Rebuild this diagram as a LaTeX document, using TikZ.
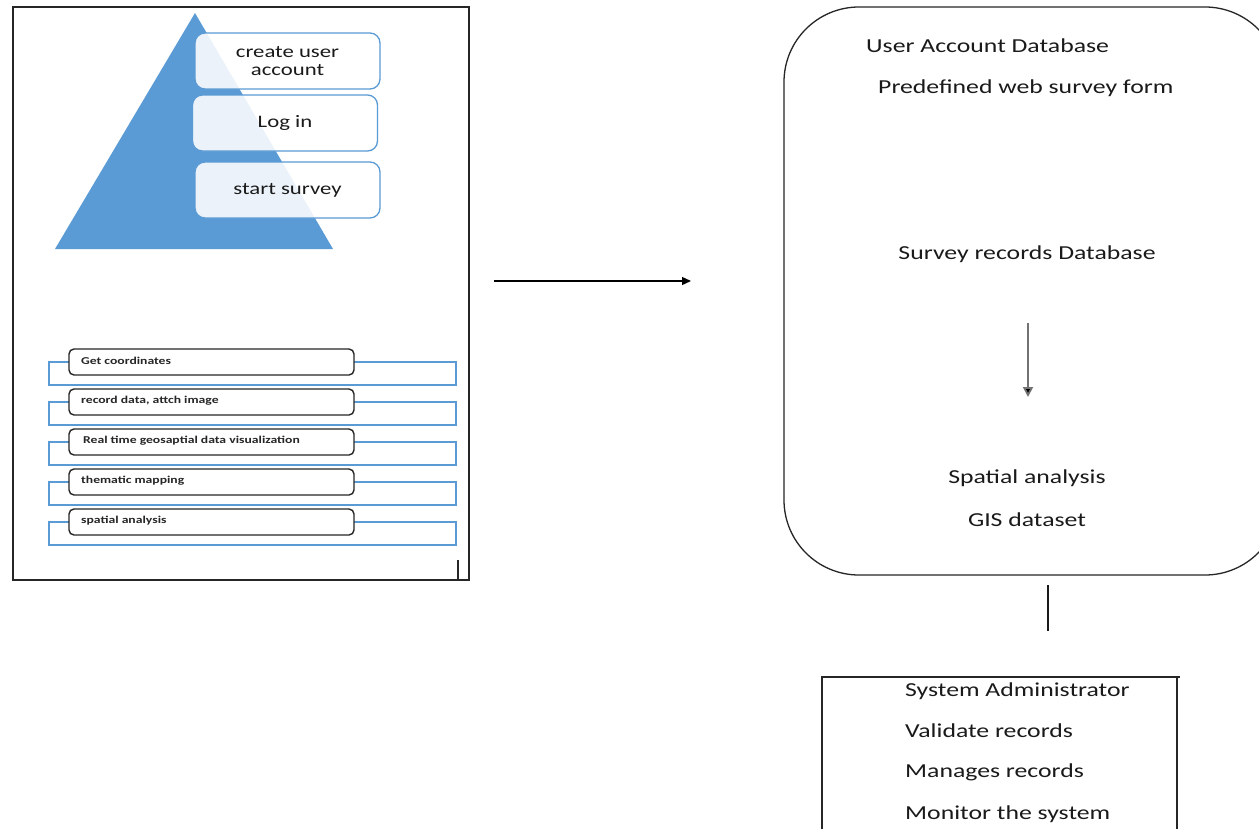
\documentclass[tikz,border=0pt]{standalone}
\usepackage{fontspec}
\setmainfont{Carlito}[FakeStretch=1.3]
\usetikzlibrary{arrows.meta}
\definecolor{pyrblue}{HTML}{5B9BD5}
\definecolor{txtgray}{HTML}{1A1A1A}
\tikzset{
  frameline/.style={line width=1.4pt, draw=black!85},
  pyrbox/.style={draw=pyrblue, line width=1.3pt, fill=white, fill opacity=0.88, text opacity=1, rounded corners=10pt, minimum width=185pt, minimum height=56pt, align=center, font=\fontsize{17.5}{19}\selectfont, text=txtgray, inner sep=0pt},
  itembox/.style={draw=black!85, line width=1.4pt, fill=white, rounded corners=5pt, minimum width=285pt, minimum height=26pt, inner sep=0pt},
  itemtext/.style={anchor=west, font=\bfseries\fontsize{10.5}{11}\selectfont, text=black!85, inner sep=0pt},
  bluerect/.style={draw=pyrblue, line width=1.2pt},
  bigtext/.style={font=\fontsize{19.8}{21}\selectfont, text=txtgray, inner sep=0pt},
  arrowline/.style={line width=1.3pt, -{Triangle[length=9pt,width=8pt]}}
}
\begin{document}
\begin{tikzpicture}[x=1pt,y=-1pt]
\useasboundingbox (0,0) rectangle (1259,828);
\clip (0,0) rectangle (1259,828);
\fill[white] (0,0) rectangle (1259,828);

% left frame
\coordinate (ftl) at (13,7);
\coordinate (ftr) at (469,7);
\coordinate (fbl) at (13,580);
\coordinate (fbr) at (469,580);
\draw[frameline] (ftl) -- (ftr) -- (fbr) -- (fbl) -- cycle;
\coordinate (tickt) at (458,560);
\coordinate (tickb) at (458,580);
\draw[frameline] (tickt) -- (tickb);

% pyramid
\coordinate (apex) at (195,13);
\coordinate (bl) at (55,249);
\coordinate (br) at (333,249);
\fill[pyrblue] (apex) -- (br) -- (bl) -- cycle;

\node[pyrbox] (create) at (287.5,61) {create user\\[-1pt]account};
\node[pyrbox] (login) at (285,123) {Log in};
\node[pyrbox] (start) at (287.5,190) {start survey};

% list items
\foreach \i/\t/\dx in {0/Get coordinates/0, 1/{record data, attch image}/0, 2/Real time geosaptial data visualization/2, 3/thematic mapping/0, 4/spatial analysis/0}{
  \pgfmathsetmacro{\yy}{362+40*\i}
  \draw[bluerect] (49,\yy) rectangle (456,\yy+23);
  \node[itembox] (item\i) at (211.5,\yy) {};
  \node[itemtext] (itemt\i) at (81+\dx,\yy-1) {\t};
}

% middle arrow
\coordinate (arrs) at (494,281);
\coordinate (arre) at (691,281);
\draw[arrowline] (arrs) -- (arre);

% big rounded box
\draw[line width=1.3pt, draw=black!85, rounded corners=75pt] (784,7) rectangle (1280,575);
\node[bigtext, anchor=west] (uad) at (866,46) {User Account Database};
\node[bigtext, anchor=west] (pwsf) at (878,88) {Predefined web survey form};
\node[bigtext] (srd) at (1027,254) {Survey records Database};
\node[bigtext] (spa) at (1027,478) {Spatial analysis};
\node[bigtext] (gis) at (1027,520) {GIS dataset};
\coordinate (das) at (1028,323);
\coordinate (dae) at (1028,397);
\draw[line width=1.8pt, draw=black!55, -{Triangle[length=10pt,width=10pt,fill=black]}] (das) -- (dae);

% connector to admin box
\coordinate (ls) at (1048,585);
\coordinate (le) at (1048,631);
\draw[line width=1.4pt, draw=black!90] (ls) -- (le);

% admin box
\draw[line width=1.4pt, draw=black!85] (822,840) -- (822,677) -- (1180,677);
\draw[line width=1.4pt, draw=black!85] (1177,677) -- (1177,840);
\node[bigtext, anchor=west] (sa) at (905,691) {System Administrator};
\node[bigtext, anchor=west] (vr) at (905,731) {Validate records};
\node[bigtext, anchor=west] (mr) at (905,772) {Manages records};
\node[bigtext, anchor=west] (mts) at (905,814) {Monitor the system};
\end{tikzpicture}
\end{document}
